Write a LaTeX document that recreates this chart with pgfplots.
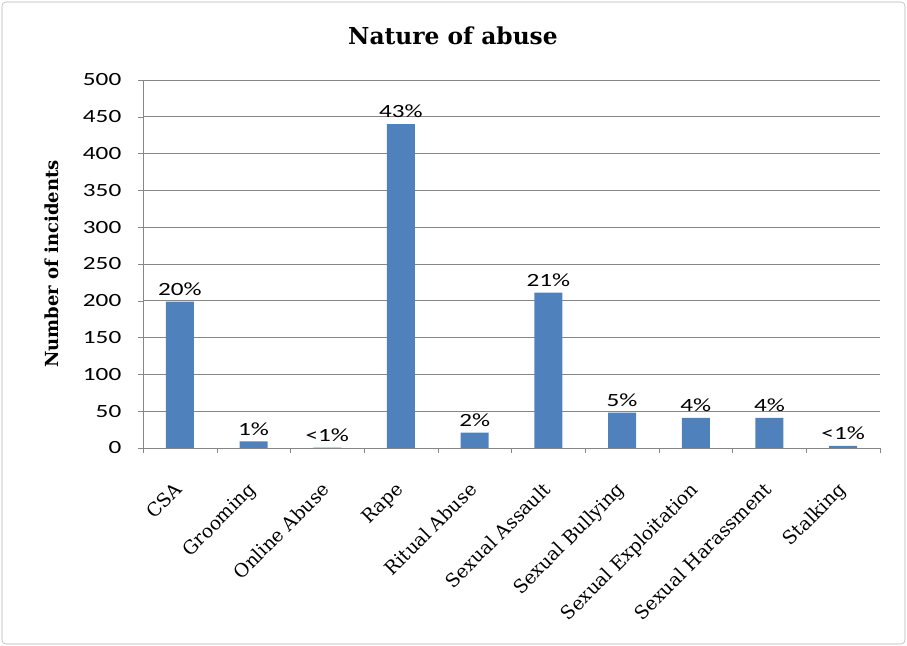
\documentclass[border=0pt]{standalone}
\usepackage{pgfplots}
\pgfplotsset{compat=1.18}
\usepackage{fontspec}
\setmainfont{DejaVu Serif}
\newfontfamily\numfont{Carlito}[FakeStretch=1.35]
\definecolor{barblue}{HTML}{4F81BD}
\definecolor{gridgray}{HTML}{868686}
\begin{document}
\begin{tikzpicture}[x=1pt,y=1pt]
\path[use as bounding box] (0,0) rectangle (680.25,484.5);
\draw[gray!60, rounded corners=3pt] (1.5,1.5) rectangle (678.75,483);
\begin{axis}[
  at={(107.25pt,148.5pt)}, anchor=south west,
  scale only axis, width=552.75pt, height=276pt,
  ybar, bar width=21pt,
  ymin=0, ymax=500, ytick={0,50,...,500},
  xmin=-0.5, xmax=9.5,
  xtick={0,...,9},
  xticklabels={CSA,Grooming,Online Abuse,Rape,Ritual Abuse,Sexual Assault,Sexual Bullying,Sexual Exploitation,Sexual Harassment,Stalking},
  minor xtick={-0.5,0.5,...,9.5},
  axis x line*=bottom, axis y line*=left,
  axis line style={gridgray, -},
  ymajorgrids, grid style={gridgray, line width=0.6pt},
  tick align=outside,
  major x tick style={draw=none},
  minor x tick style={gridgray},
  major y tick style={gridgray},
  major tick length=3.75pt, minor tick length=3.75pt,
  y tick label style={font=\numfont\fontsize{14}{16}\selectfont, xshift=-9pt},
  /pgf/number format/assume math mode=true,
  x tick label style={xshift=-5pt, yshift=-16pt, rotate=45, anchor=north east, font=\fontsize{14}{16}\selectfont},
  ylabel={\bfseries Number of incidents},
  ylabel style={at={(rel axis cs:0,0.5)}, anchor=center, yshift=68.25pt, font=\fontsize{13.5}{15}\selectfont},
  title={\bfseries Nature of abuse},
  title style={at={(rel axis cs:0.5,1)}, anchor=center, xshift=-43.9pt, yshift=27pt, font=\fontsize{17.5}{19}\selectfont},
  nodes near coords,
  point meta=explicit symbolic,
  every node near coord/.append style={font=\numfont\fontsize{14}{16}\selectfont, black, yshift=1pt},
]
\addplot[fill=barblue, draw=none] coordinates {
  (0,199) [20\%]
  (1,9) [1\%]
  (2,0.5) [<1\%]
  (3,440) [43\%]
  (4,21) [2\%]
  (5,211) [21\%]
  (6,48) [5\%]
  (7,41) [4\%]
  (8,41) [4\%]
  (9,3) [<1\%]
};
\end{axis}
\end{tikzpicture}
\end{document}
